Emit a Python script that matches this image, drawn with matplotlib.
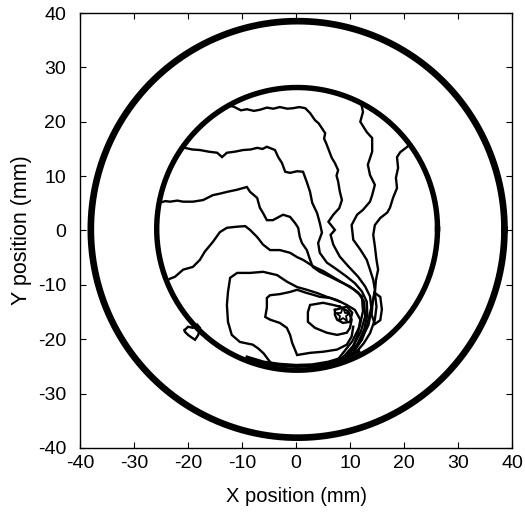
import numpy as np
import matplotlib.pyplot as plt

plt.rcParams['font.family'] = ['Liberation Sans', 'DejaVu Sans']
plt.rcParams['axes.unicode_minus'] = False

# Boundary circles: (centre x, centre y, radius) in mm
outer_ring = (0.3, 0.2, 38.3)
inner_ring = (0.2, 0.3, 26.0)

# Traced contour paths (x, y) in mm
line_a = [(-12.4, 22.9), (-11.6, 22.8), (-10.2, 22.1), (-9.1, 22.3), (-7.8, 22.0), (-6.7, 22.2),
          (-5.4, 22.6), (-4.2, 22.4), (-3.0, 22.7), (-1.6, 22.4), (-0.5, 22.5), (0.6, 22.7),
          (1.7, 22.5), (2.6, 21.6), (3.5, 20.3), (4.2, 19.7), (4.8, 18.8), (5.4, 17.9), (5.2, 16.9),
          (5.6, 16.0), (6.3, 14.2), (6.6, 13.4), (7.2, 12.4), (7.8, 11.1), (7.5, 10.1), (7.8, 9.0),
          (8.1, 7.2), (8.5, 5.6), (8.0, 4.1), (6.9, 2.9), (6.0, 1.6), (7.2, 0.1), (6.4, -0.8),
          (6.9, -2.6), (8.1, -4.8), (9.7, -6.6), (11.5, -8.5), (12.8, -10.3), (13.7, -12.1),
          (14.0, -14.6), (13.4, -17.4), (12.2, -19.8), (10.6, -22.0)]
line_b = [(-21.0, 15.3), (-20.6, 15.2), (-19.2, 14.9), (-17.8, 14.8), (-16.2, 14.5), (-14.6, 14.3),
          (-13.7, 13.5), (-12.8, 14.3), (-11.3, 14.5), (-9.8, 14.8), (-8.4, 14.9), (-7.2, 15.2),
          (-6.2, 15.0), (-5.4, 15.4), (-3.9, 14.8), (-3.3, 13.5), (-2.6, 12.4), (-2.0, 10.8),
          (-1.1, 10.6), (0.2, 10.9), (1.3, 10.8), (2.0, 8.9), (2.6, 7.1), (3.0, 5.1), (3.9, 3.2),
          (4.4, 1.4), (4.8, -0.4), (4.1, -2.3), (4.4, -4.1), (5.7, -5.9), (7.6, -7.2), (9.4, -8.5),
          (10.9, -9.7), (12.2, -11.2), (13.1, -13.1), (13.2, -15.5), (12.6, -18.3), (11.4, -20.8),
          (9.8, -22.8)]
line_c = [(-25.3, 5.1), (-24.2, 5.4), (-23.3, 5.3), (-22.0, 5.5), (-20.9, 5.3), (-19.1, 5.3),
          (-17.2, 5.6), (-15.4, 6.5), (-14.0, 6.8), (-12.8, 7.1), (-10.9, 7.5), (-9.1, 8.0),
          (-8.5, 7.1), (-7.2, 6.0), (-6.7, 4.2), (-6.1, 3.2), (-5.4, 1.9), (-4.3, 1.9), (-2.4, 2.9),
          (-1.1, 2.5), (-0.2, 1.4), (0.4, 0.5), (0.7, -1.2), (1.1, -2.3), (2.0, -3.6), (2.6, -5.4),
          (3.1, -6.7), (4.4, -7.6), (6.3, -8.5), (8.1, -9.4), (10.0, -10.3), (11.5, -11.4),
          (12.6, -13.1), (12.8, -15.8), (12.0, -18.6), (10.6, -21.2), (8.8, -23.2)]
line_d = [(-23.4, -8.9), (-22.4, -8.5), (-20.9, -7.2), (-19.1, -6.7), (-17.8, -5.4), (-16.9, -3.9),
          (-15.4, -2.1), (-14.1, -0.3), (-12.8, 0.5), (-10.9, 0.7), (-9.4, 0.8), (-8.5, 0.1),
          (-7.2, -1.2), (-6.1, -2.6), (-4.8, -3.6), (-3.0, -3.6), (-1.1, -4.1), (0.2, -4.9),
          (1.3, -5.4), (3.2, -6.6), (5.1, -7.5), (6.9, -8.6), (8.8, -9.7), (10.6, -10.8),
          (12.2, -12.1), (12.4, -14.8), (11.8, -17.6), (10.4, -20.4), (8.0, -23.4)]
line_e = [(-4.6, -24.4), (-5.1, -23.8), (-6.0, -22.6), (-7.0, -21.7), (-8.0, -21.0), (-10.4, -20.5),
          (-11.9, -19.2), (-12.6, -16.8), (-12.8, -13.7), (-12.6, -11.3), (-12.2, -8.7),
          (-10.9, -7.8), (-8.5, -7.8), (-6.1, -7.6), (-3.5, -8.2), (-1.7, -9.4), (0.2, -10.4),
          (2.0, -10.9), (3.9, -11.5), (5.7, -12.2), (7.6, -12.8), (9.4, -13.7), (10.9, -14.6),
          (11.9, -16.4), (11.5, -18.9), (10.6, -21.3), (9.4, -23.0)]
line_f = [(8.1, -13.1), (6.3, -12.4), (4.4, -12.2), (3.1, -11.8), (2.0, -11.5), (0.2, -10.9),
          (-1.1, -11.3), (-3.0, -11.7), (-4.8, -11.9), (-5.4, -12.4), (-5.4, -14.2), (-5.7, -15.9),
          (-4.8, -16.4), (-3.0, -17.0), (-1.7, -17.9), (-1.1, -19.2), (-0.7, -20.7), (-0.2, -21.9),
          (0.2, -22.9), (2.6, -22.5), (5.0, -22.3), (7.6, -21.9), (9.4, -21.0), (10.3, -19.5),
          (10.6, -17.7)]
loop_g = [(8.1, -14.0), (6.9, -13.7), (5.0, -13.3), (2.6, -13.7), (2.2, -15.0), (2.2, -16.8),
          (3.5, -17.9), (5.7, -18.8), (7.6, -19.2), (9.4, -18.8), (10.0, -17.9), (10.3, -16.4),
          (9.7, -14.9), (8.1, -14.0)]
loop_star = [(7.2, -14.6), (9.4, -14.0), (10.4, -15.1), (10.0, -16.8), (8.7, -17.0), (7.6, -16.4),
             (7.2, -15.5), (7.2, -14.6)]
line_r1 = [(12.1, 23.2), (12.4, 21.8), (11.9, 20.0), (13.1, 18.1), (14.1, 17.0), (14.1, 14.5),
           (13.3, 12.1), (13.7, 10.2), (14.6, 8.4), (14.1, 6.5), (13.7, 5.3), (12.4, 3.8),
           (11.3, 2.9), (10.3, 1.0), (10.6, -1.7), (11.9, -3.5), (13.1, -5.4), (13.7, -7.2),
           (14.3, -9.1), (14.6, -10.9), (14.3, -12.7), (13.7, -15.2), (13.1, -17.7), (12.2, -20.1),
           (10.9, -22.0)]
line_r2 = [(21.0, 15.8), (20.6, 15.4), (19.3, 14.4), (18.7, 13.5), (18.9, 11.5), (18.5, 9.7),
           (18.7, 7.8), (18.0, 6.1), (17.4, 4.2), (16.9, 3.3), (15.6, 2.3), (14.6, 1.0),
           (14.3, -0.8), (14.6, -2.9), (14.9, -5.4), (15.2, -7.2), (14.8, -9.1), (14.6, -11.5),
           (14.9, -14.0), (14.6, -16.4), (13.7, -18.9), (12.5, -20.8), (11.2, -22.3)]
loop_right = [(14.6, -11.5), (15.6, -12.2), (15.9, -14.5), (15.6, -16.5), (14.6, -17.2),
              (14.0, -15.5), (14.2, -13.0), (14.6, -11.5)]
loop_left = [(-20.6, -18.3), (-20.0, -17.7), (-19.1, -17.9), (-18.3, -17.3), (-17.8, -17.9),
             (-18.1, -19.2), (-18.7, -20.1), (-19.3, -19.7), (-20.0, -19.2), (-20.6, -18.6),
             (-20.6, -18.3)]
bottom_band = [(-9.0, -23.4), (-6.0, -24.3), (-3.0, -24.7), (0.0, -24.9), (3.0, -24.8),
               (6.0, -24.3), (9.0, -23.4), (11.5, -22.2)]
star_pos = (8.7, -15.5)

ticks = [-40, -30, -20, -10, 0, 10, 20, 30, 40]

fig = plt.figure(figsize=(5.25, 5.16), dpi=100)
ax = fig.add_axes([0.1524, 0.1318, 0.8229, 0.8430])

theta = np.linspace(0, 2 * np.pi, 400)
for (cx, cy, r), lw in [(outer_ring, 4.8), (inner_ring, 3.9)]:
    ax.plot(cx + r * np.cos(theta), cy + r * np.sin(theta), color='black', lw=lw)

paths = [line_a, line_b, line_c, line_d, line_e, line_f, loop_g, loop_star,
         line_r1, line_r2, loop_right, loop_left]
for p in paths:
    xy = np.array(p)
    ax.plot(xy[:, 0], xy[:, 1], color='black', lw=1.7, solid_joinstyle='miter')

band = np.array(bottom_band)
ax.plot(band[:, 0], band[:, 1], color='black', lw=3)

ax.plot(*star_pos, marker='*', ms=11, mfc='white', mec='black', mew=1.3)

ax.set_xlim(-40, 40)
ax.set_ylim(-40, 40)
ax.set_xticks(ticks)
ax.set_yticks(ticks)
ax.tick_params(direction='in', top=True, right=True, length=4, labelsize=14)
ax.tick_params(axis='x', pad=5)
ax.tick_params(axis='y', pad=10)
for s in ax.spines.values():
    s.set_linewidth(1.0)
ax.set_xlabel('X position (mm)', fontsize=14.5, labelpad=11)
ax.set_ylabel('Y position (mm)', fontsize=15.5, labelpad=4)

fig.savefig('out.png', dpi=100)
